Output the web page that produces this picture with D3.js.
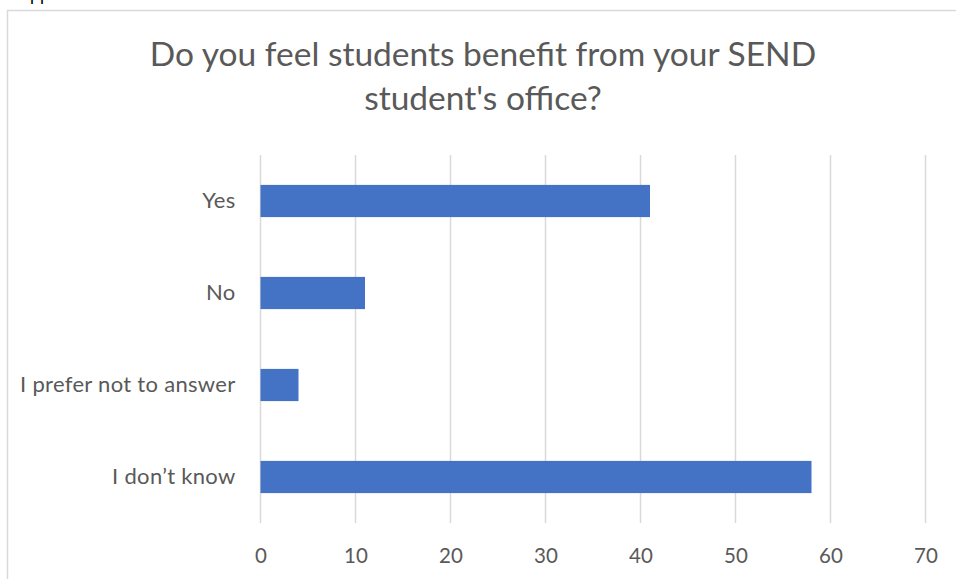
<!DOCTYPE html>
<html>
<head>
<meta charset="utf-8">
<script src="https://cdn.jsdelivr.net/npm/d3@7"></script>
<style>
  html, body { margin: 0; padding: 0; background: #fff; overflow: hidden; }
  svg { display: block; font-family: Lato, "Open Sans", sans-serif; }
</style>
</head>
<body>
<svg id="chart" width="956" height="579"></svg>
<script>
const categories = ["Yes", "No", "I prefer not to answer", "I don\u2019t know"];
const values = [41, 11, 4, 58];
const tickValues = [0, 10, 20, 30, 40, 50, 60, 70];
const titleLines = ["Do you feel students benefit from your SEND", "student's office?"];

const svg = d3.select("#chart");
const W = 956, H = 579;
const margin = { left: 260.5, right: 30.5, top: 155, bottom: 56 };

// page text above the chart frame (mostly cut off, as in the reference)
svg.append("text").attr("x", 18).attr("y", 0)
  .attr("font-family", "Liberation Sans, Arial, sans-serif")
  .attr("font-size", 18).attr("fill", "#000").text("Appendix");

// chart frame
svg.append("rect").attr("x", 7.5).attr("y", 10.5)
  .attr("width", W + 20).attr("height", H + 20)
  .attr("fill", "#fff").attr("stroke", "#d9d9d9").attr("stroke-width", 1.5);

const x = d3.scaleLinear().domain([0, 70]).range([margin.left, W - margin.right]);
const y = d3.scaleBand().domain(categories).range([margin.top, H - margin.bottom])
  .paddingInner(0.65).paddingOuter(0.325);

// gridlines
svg.append("g").selectAll("line").data(tickValues).join("line")
  .attr("x1", d => x(d)).attr("x2", d => x(d))
  .attr("y1", margin.top).attr("y2", H - margin.bottom)
  .attr("stroke", "#d9d9d9").attr("stroke-width", 1.5);

// bars
svg.append("g").selectAll("rect").data(categories).join("rect")
  .attr("x", x(0)).attr("y", d => y(d))
  .attr("width", (d, i) => x(values[i]) - x(0))
  .attr("height", y.bandwidth())
  .attr("fill", "#4472c4");

// x axis labels
const xAxis = d3.axisBottom(x).tickValues(tickValues).tickSize(0).tickPadding(0);
const gx = svg.append("g").attr("transform", `translate(0,${H - margin.bottom + 25})`).call(xAxis);
gx.select(".domain").remove();
gx.selectAll("text").attr("font-family", "Lato, sans-serif").attr("font-size", 20.5).attr("fill", "#595959");

// y axis labels
const yAxis = d3.axisLeft(y).tickSize(0).tickPadding(25);
const gy = svg.append("g").attr("transform", `translate(${margin.left},0)`).call(yAxis);
gy.select(".domain").remove();
gy.selectAll("text").attr("font-family", "Lato, sans-serif").attr("font-size", 22)
  .attr("letter-spacing", 0.3).attr("fill", "#595959");

// title
svg.append("g").selectAll("text").data(titleLines).join("text")
  .attr("x", 483).attr("y", (d, i) => 66 + i * 44)
  .attr("text-anchor", "middle")
  .attr("font-family", "Lato, sans-serif").attr("font-size", 33.5)
  .attr("fill", "#595959").text(d => d);
</script>
</body>
</html>
